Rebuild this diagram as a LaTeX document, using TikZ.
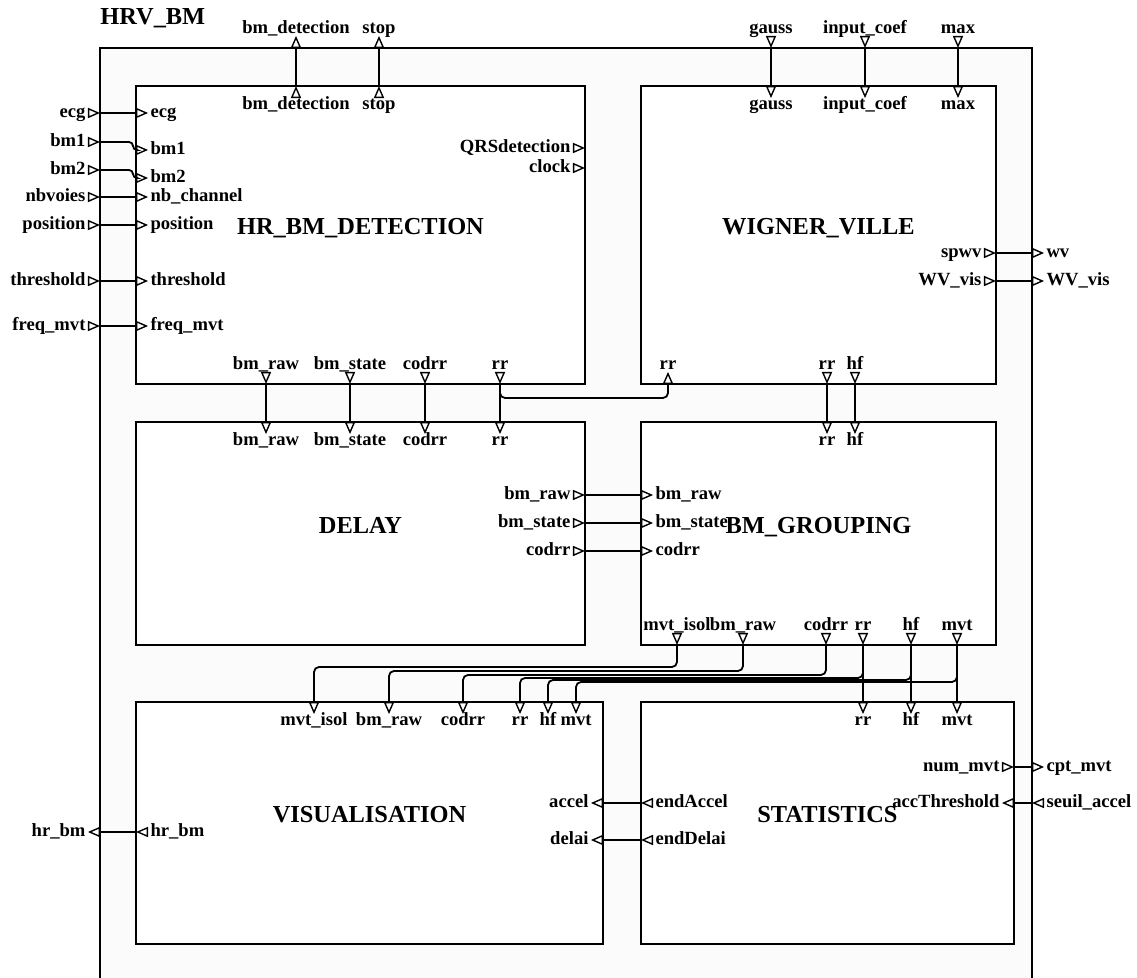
\documentclass[tikz,border=0pt]{standalone}
\usepackage{fontspec}
\setmainfont{Liberation Serif}
\usetikzlibrary{shapes.geometric}

\tikzset{
  blk/.style={draw, line width=1.1pt, fill=white},
  ttl/.style={font=\fontsize{12.2}{14}\selectfont\bfseries, anchor=base, inner sep=0pt},
  plab/.style={font=\fontsize{9.3}{11}\selectfont\bfseries, inner sep=1pt, text height=6.6pt, text depth=1.9pt},
  plh/.style={plab, label distance=0pt},
  plv/.style={plab, label distance=-2.1pt},
  port/.style={draw, line width=0.7pt, fill=white, isosceles triangle,
    isosceles triangle stretches, inner sep=0pt, minimum width=4.2pt, minimum height=4.8pt},
  pr/.style={port, shape border rotate=0},
  pl/.style={port, shape border rotate=180},
  pu/.style={port, shape border rotate=90},
  pd/.style={port, shape border rotate=-90},
  wire/.style={line width=0.9pt},
}

\begin{document}
\begin{tikzpicture}[x=0.5pt, y=-0.5pt]
  \clip (0,0) rectangle (1137,978);

  % boite HRV_BM
  \draw[line width=0.8pt, fill=black!1.5] (100,48) rectangle (1032,1000);
  \node[ttl, anchor=base west] (thrv) at (100,25) {HRV\_BM};

  % blocs
  \draw[blk] (136,86) rectangle (585,384);
  \draw[blk] (641,86) rectangle (996,384);
  \draw[blk] (136,422) rectangle (585,645);
  \draw[blk] (641,422) rectangle (996,645);
  \draw[blk] (136,702) rectangle (603,944);
  \draw[blk] (641,702) rectangle (1014,944);

  \node[ttl] (thr) at (360.5,235) {HR\_BM\_DETECTION};
  \node[ttl] (twv) at (818.5,235) {WIGNER\_VILLE};
  \node[ttl] (tdl) at (360.5,533.5) {DELAY};
  \node[ttl] (tbg) at (818.5,533.5) {BM\_GROUPING};
  \node[ttl] (tvi) at (369.5,823) {VISUALISATION};
  \node[ttl] (tst) at (827.5,823) {STATISTICS};

  % ports externes
  \node[pu, anchor=lower side, label={[plv]above:bm\_detection}] (obmd) at (296,48) {};
  \node[pu, anchor=lower side, label={[plv]above:stop}] (ostop) at (379,48) {};
  \node[pd, anchor=apex, label={[plv]above:gauss}] (ogauss) at (771,48) {};
  \node[pd, anchor=apex, label={[plv]above:input\_coef}] (ocoef) at (865,48) {};
  \node[pd, anchor=apex, label={[plv]above:max}] (omax) at (958,48) {};

  \node[pr, anchor=apex, label={[plh]left:ecg}] (oecg) at (100,113) {};
  \node[pr, anchor=apex, label={[plh]left:bm1}] (obm1) at (100,142) {};
  \node[pr, anchor=apex, label={[plh]left:bm2}] (obm2) at (100,170) {};
  \node[pr, anchor=apex, label={[plh]left:nbvoies}] (onbv) at (100,197) {};
  \node[pr, anchor=apex, label={[plh]left:position}] (opos) at (100,225) {};
  \node[pr, anchor=apex, label={[plh]left:threshold}] (othr) at (100,281) {};
  \node[pr, anchor=apex, label={[plh]left:freq\_mvt}] (ofreq) at (100,326) {};
  \node[pl, anchor=lower side, label={[plh]left:hr\_bm}] (ohrbm) at (100,832) {};

  \node[pr, anchor=lower side, label={[plh]right:wv}] (owv) at (1032,253) {};
  \node[pr, anchor=lower side, label={[plh]right:WV\_vis}] (owvvis) at (1032,281) {};
  \node[pr, anchor=lower side, label={[plh]right:cpt\_mvt}] (ocpt) at (1032,767) {};
  \node[pl, anchor=apex, label={[plh]right:seuil\_accel}] (oseuil) at (1032,803) {};

  % ports HR_BM_DETECTION
  \node[pu, anchor=apex, label={[plv]below:bm\_detection}] (hbmd) at (296,86) {};
  \node[pu, anchor=apex, label={[plv]below:stop}] (hstop) at (379,86) {};
  \node[pr, anchor=lower side, label={[plh]right:ecg}] (hecg) at (136,113) {};
  \node[pr, anchor=lower side, label={[plh]right:bm1}] (hbm1) at (136,150) {};
  \node[pr, anchor=lower side, label={[plh]right:bm2}] (hbm2) at (136,178) {};
  \node[pr, anchor=lower side, label={[plh]right:nb\_channel}] (hnbc) at (136,197) {};
  \node[pr, anchor=lower side, label={[plh]right:position}] (hpos) at (136,225) {};
  \node[pr, anchor=lower side, label={[plh]right:threshold}] (hthr) at (136,281) {};
  \node[pr, anchor=lower side, label={[plh]right:freq\_mvt}] (hfreq) at (136,326) {};
  \node[pr, anchor=apex, label={[plh]left:QRSdetection}] (hqrs) at (585,148) {};
  \node[pr, anchor=apex, label={[plh]left:clock}] (hclk) at (585,168) {};
  \node[pd, anchor=apex, label={[plv]above:bm\_raw}] (hraw) at (266,384) {};
  \node[pd, anchor=apex, label={[plv]above:bm\_state}] (hstate) at (350,384) {};
  \node[pd, anchor=apex, label={[plv]above:codrr}] (hcod) at (425,384) {};
  \node[pd, anchor=apex, label={[plv]above:rr}] (hrr) at (500,384) {};

  % ports WIGNER_VILLE
  \node[pd, anchor=lower side, label={[plv]below:gauss}] (wgauss) at (771,86) {};
  \node[pd, anchor=lower side, label={[plv]below:input\_coef}] (wcoef) at (865,86) {};
  \node[pd, anchor=lower side, label={[plv]below:max}] (wmax) at (958,86) {};
  \node[pr, anchor=apex, label={[plh]left:spwv}] (wspwv) at (996,253) {};
  \node[pr, anchor=apex, label={[plh]left:WV\_vis}] (wwvvis) at (996,281) {};
  \node[pu, anchor=lower side, label={[plv]above:rr}] (wrrin) at (668,384) {};
  \node[pd, anchor=apex, label={[plv]above:rr}] (wrr) at (827,384) {};
  \node[pd, anchor=apex, label={[plv]above:hf}] (whf) at (855,384) {};

  % ports DELAY
  \node[pd, anchor=lower side, label={[plv]below:bm\_raw}] (draw) at (266,422) {};
  \node[pd, anchor=lower side, label={[plv]below:bm\_state}] (dstate) at (350,422) {};
  \node[pd, anchor=lower side, label={[plv]below:codrr}] (dcod) at (425,422) {};
  \node[pd, anchor=lower side, label={[plv]below:rr}] (drr) at (500,422) {};
  \node[pr, anchor=apex, label={[plh]left:bm\_raw}] (draw2) at (585,495) {};
  \node[pr, anchor=apex, label={[plh]left:bm\_state}] (dstate2) at (585,523) {};
  \node[pr, anchor=apex, label={[plh]left:codrr}] (dcod2) at (585,551) {};

  % ports BM_GROUPING
  \node[pd, anchor=lower side, label={[plv]below:rr}] (grr) at (827,422) {};
  \node[pd, anchor=lower side, label={[plv]below:hf}] (ghf) at (855,422) {};
  \node[pr, anchor=lower side, label={[plh]right:bm\_raw}] (graw) at (641,495) {};
  \node[pr, anchor=lower side, label={[plh]right:bm\_state}] (gstate) at (641,523) {};
  \node[pr, anchor=lower side, label={[plh]right:codrr}] (gcod) at (641,551) {};
  \node[pd, anchor=apex, label={[plv]above:mvt\_isol}] (giso2) at (677,645) {};
  \node[pd, anchor=apex, label={[plv]above:bm\_raw}] (graw2) at (743,645) {};
  \node[pd, anchor=apex, label={[plv]above:codrr}] (gcod2) at (826,645) {};
  \node[pd, anchor=apex, label={[plv]above:rr}] (grr2) at (863,645) {};
  \node[pd, anchor=apex, label={[plv]above:hf}] (ghf2) at (911,645) {};
  \node[pd, anchor=apex, label={[plv]above:mvt}] (gmvt2) at (957,645) {};

  % ports VISUALISATION
  \node[pd, anchor=lower side, label={[plv]below:mvt\_isol}] (viso) at (314,702) {};
  \node[pd, anchor=lower side, label={[plv]below:bm\_raw}] (vraw) at (389,702) {};
  \node[pd, anchor=lower side, label={[plv]below:codrr}] (vcod) at (463,702) {};
  \node[pd, anchor=lower side, label={[plv]below:rr}] (vrr) at (520,702) {};
  \node[pd, anchor=lower side, label={[plv]below:hf}] (vhf) at (548,702) {};
  \node[pd, anchor=lower side, label={[plv]below:mvt}] (vmvt) at (576,702) {};
  \node[pl, anchor=apex, label={[plh]right:hr\_bm}] (vhrbm) at (136,832) {};
  \node[pl, anchor=lower side, label={[plh]left:accel}] (vacc) at (603,803) {};
  \node[pl, anchor=lower side, label={[plh]left:delai}] (vdel) at (603,840) {};

  % ports STATISTICS
  \node[pd, anchor=lower side, label={[plv]below:rr}] (srr) at (863,702) {};
  \node[pd, anchor=lower side, label={[plv]below:hf}] (shf) at (911,702) {};
  \node[pd, anchor=lower side, label={[plv]below:mvt}] (smvt) at (957,702) {};
  \node[pl, anchor=apex, label={[plh]right:endAccel}] (sacc) at (641,803) {};
  \node[pl, anchor=apex, label={[plh]right:endDelai}] (sdel) at (641,840) {};
  \node[pr, anchor=apex, label={[plh]left:num\_mvt}] (snum) at (1014,767) {};
  \node[pl, anchor=lower side, label={[plh]left:accThreshold}] (sthr) at (1014,803) {};

  % liaisons
  \draw[wire] (obmd.lower side) -- (hbmd.apex);
  \draw[wire] (ostop.lower side) -- (hstop.apex);
  \draw[wire] (ogauss.apex) -- (wgauss.lower side);
  \draw[wire] (ocoef.apex) -- (wcoef.lower side);
  \draw[wire] (omax.apex) -- (wmax.lower side);

  \draw[wire] (oecg.apex) -- (hecg.lower side);
  \draw[wire, rounded corners=2pt] (obm1.apex) -| ([xshift=-1.5pt]hbm1.lower side) -- (hbm1.lower side);
  \draw[wire, rounded corners=2pt] (obm2.apex) -| ([xshift=-1.5pt]hbm2.lower side) -- (hbm2.lower side);
  \draw[wire] (onbv.apex) -- (hnbc.lower side);
  \draw[wire] (opos.apex) -- (hpos.lower side);
  \draw[wire] (othr.apex) -- (hthr.lower side);
  \draw[wire] (ofreq.apex) -- (hfreq.lower side);

  \draw[wire] (wspwv.apex) -- (owv.lower side);
  \draw[wire] (wwvvis.apex) -- (owvvis.lower side);

  \draw[wire] (hraw.apex) -- (draw.lower side);
  \draw[wire] (hstate.apex) -- (dstate.lower side);
  \draw[wire] (hcod.apex) -- (dcod.lower side);
  \draw[wire] (hrr.apex) -- (drr.lower side);
  \draw[wire, rounded corners=2.5pt] (hrr.apex) -- ++(0,14) -| (wrrin.lower side);
  \draw[wire] (wrr.apex) -- (grr.lower side);
  \draw[wire] (whf.apex) -- (ghf.lower side);

  \draw[wire] (draw2.apex) -- (graw.lower side);
  \draw[wire] (dstate2.apex) -- (gstate.lower side);
  \draw[wire] (dcod2.apex) -- (gcod.lower side);

  \draw[wire, rounded corners=2.5pt] (giso2.apex) -- ++(0,22) -| (viso.lower side);
  \draw[wire, rounded corners=2.5pt] (graw2.apex) -- ++(0,26) -| (vraw.lower side);
  \draw[wire, rounded corners=2.5pt] (gcod2.apex) -- ++(0,30) -| (vcod.lower side);
  \draw[wire, rounded corners=2.5pt] (grr2.apex) -- ++(0,33) -| (vrr.lower side);
  \draw[wire, rounded corners=2.5pt] (ghf2.apex) -- ++(0,35) -| (vhf.lower side);
  \draw[wire, rounded corners=2.5pt] (gmvt2.apex) -- ++(0,37) -| (vmvt.lower side);
  \draw[wire] (grr2.apex) -- (srr.lower side);
  \draw[wire] (ghf2.apex) -- (shf.lower side);
  \draw[wire] (gmvt2.apex) -- (smvt.lower side);

  \draw[wire] (vhrbm.apex) -- (ohrbm.lower side);
  \draw[wire] (sacc.apex) -- (vacc.lower side);
  \draw[wire] (sdel.apex) -- (vdel.lower side);
  \draw[wire] (snum.apex) -- (ocpt.lower side);
  \draw[wire] (oseuil.apex) -- (sthr.lower side);
\end{tikzpicture}
\end{document}
